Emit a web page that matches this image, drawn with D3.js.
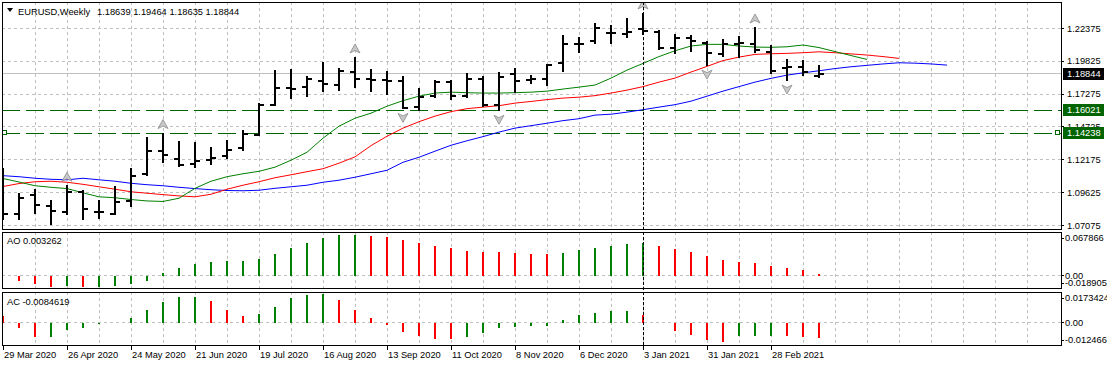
<!DOCTYPE html>
<html lang="en">
<head>
<meta charset="UTF-8">
<title>EURUSD Weekly</title>
<script src="https://d3js.org/d3.v7.min.js"></script>
<style>
    body { margin: 0; background: #fff; }
    svg text { font-family: "Liberation Sans", Arial, sans-serif; font-size: 9.3px; fill: #000; }
</style>
</head>
<body>
<svg id="chart" width="1107" height="366"></svg>
<script>
// week labels on the time axis (every 4th bar)
const dateLabels = ["29 Mar 2020", "26 Apr 2020", "24 May 2020", "21 Jun 2020", "19 Jul 2020", "16 Aug 2020",
    "13 Sep 2020", "11 Oct 2020", "8 Nov 2020", "6 Dec 2020", "3 Jan 2021", "31 Jan 2021", "28 Feb 2021"];

// weekly OHLC, 52 bars
const open = [1.1140, 1.0799, 1.0942, 1.0858, 1.0812, 1.0967, 1.0812, 1.0799, 1.0897, 1.1110, 1.1286, 1.1224, 1.1185,
    1.1219, 1.1245, 1.1305, 1.1413, 1.1641, 1.1772, 1.1783, 1.1830, 1.1794, 1.1900, 1.1842, 1.1836, 1.1828,
    1.1628, 1.1711, 1.1822, 1.1711, 1.1846, 1.1639, 1.1882, 1.1840, 1.1846, 1.1965, 1.2113, 1.2141, 1.2203,
    1.2191, 1.2232, 1.2206, 1.2082, 1.2160, 1.2121, 1.2038, 1.2116, 1.2113, 1.2056, 1.1927, 1.1939, 1.18639];
const high = [1.1147, 1.0949, 1.0986, 1.0895, 1.1012, 1.0975, 1.0895, 1.1004, 1.1144, 1.1387, 1.1421, 1.1354, 1.1348,
    1.1305, 1.1364, 1.1441, 1.1649, 1.1906, 1.1913, 1.1857, 1.1970, 1.1919, 1.2007, 1.1913, 1.1898, 1.1861,
    1.1763, 1.1825, 1.1825, 1.1882, 1.1857, 1.1892, 1.1921, 1.1867, 1.1955, 1.2178, 1.2160, 1.2269, 1.2258,
    1.2310, 1.2349, 1.2219, 1.2185, 1.2180, 1.2133, 1.2147, 1.2168, 1.2240, 1.2100, 1.1991, 1.1986, 1.19464];
const low = [1.0760, 1.0757, 1.0804, 1.0716, 1.0794, 1.0757, 1.0765, 1.0794, 1.0858, 1.1097, 1.1204, 1.1167, 1.1162,
    1.1183, 1.1235, 1.1297, 1.1408, 1.1639, 1.1693, 1.1711, 1.1748, 1.1758, 1.1779, 1.1750, 1.1727, 1.1616,
    1.1602, 1.1701, 1.1686, 1.1701, 1.1633, 1.1602, 1.1742, 1.1815, 1.1794, 1.1908, 1.2051, 1.2126, 1.2126,
    1.2168, 1.2193, 1.2074, 1.2048, 1.2059, 1.1952, 1.2022, 1.2012, 1.2056, 1.1892, 1.1836, 1.1874, 1.18635];
const close = [1.0799, 1.0924, 1.0866, 1.0820, 1.0965, 1.0835, 1.0810, 1.0889, 1.1095, 1.1286, 1.1253, 1.1175, 1.1211,
    1.1235, 1.1291, 1.1421, 1.1641, 1.1771, 1.1768, 1.1841, 1.1804, 1.1908, 1.1841, 1.1838, 1.1830, 1.1623,
    1.1706, 1.1823, 1.1714, 1.1846, 1.1641, 1.1861, 1.1830, 1.1843, 1.1950, 1.2115, 1.2118, 1.2238, 1.2199,
    1.2211, 1.2214, 1.2082, 1.2160, 1.2139, 1.2043, 1.2113, 1.2120, 1.2069, 1.1906, 1.1939, 1.1900, 1.18844];

// alligator lines (they run past the last bar)
const jaw = [1.1094, 1.1086, 1.1074, 1.1066, 1.1062, 1.1074, 1.1062, 1.1051, 1.1035, 1.1024, 1.1016, 1.1004, 1.0994,
    1.0985, 1.0979, 1.0977, 1.0981, 1.0996, 1.1008, 1.1020, 1.1043, 1.1059, 1.1082, 1.1109, 1.1136, 1.1198,
    1.1237, 1.1284, 1.1330, 1.1365, 1.1397, 1.1432, 1.1463, 1.1482, 1.1501, 1.1521, 1.1536, 1.1564, 1.1571,
    1.1587, 1.1606, 1.1626, 1.1645, 1.1672, 1.1711, 1.1750, 1.1785, 1.1820, 1.1849, 1.1874, 1.1892, 1.1908,
    1.1925, 1.1939, 1.1950, 1.1961, 1.1970, 1.1967, 1.1961, 1.1952];
const teeth = [1.1010, 1.1033, 1.1047, 1.1051, 1.1043, 1.1027, 1.1008, 1.0989, 1.0969, 1.0958, 1.0947, 1.0937, 1.0930,
    1.0950, 1.0989, 1.1020, 1.1047, 1.1078, 1.1101, 1.1125, 1.1148, 1.1191, 1.1240, 1.1327, 1.1400, 1.1463,
    1.1513, 1.1556, 1.1591, 1.1614, 1.1626, 1.1637, 1.1657, 1.1670, 1.1684, 1.1696, 1.1703, 1.1715, 1.1735,
    1.1758, 1.1785, 1.1820, 1.1851, 1.1898, 1.1942, 1.1987, 1.2014, 1.2035, 1.2040, 1.2043, 1.2048, 1.2055,
    1.2048, 1.2039, 1.2030, 1.2018, 1.2004];
const lips = [1.1072, 1.1045, 1.1016, 1.1004, 1.0994, 1.0961, 1.0930, 1.0923, 1.0909, 1.0898, 1.0894, 1.0919, 1.0996,
    1.1051, 1.1086, 1.1109, 1.1128, 1.1160, 1.1214, 1.1276, 1.1385, 1.1478, 1.1540, 1.1579, 1.1633, 1.1676,
    1.1711, 1.1735, 1.1742, 1.1738, 1.1735, 1.1735, 1.1738, 1.1742, 1.1750, 1.1766, 1.1781, 1.1797, 1.1851,
    1.1913, 1.1965, 1.2018, 1.2063, 1.2100, 1.2113, 1.2113, 1.2100, 1.2092, 1.2090, 1.2094, 1.2108, 1.2088,
    1.2057, 1.2026, 1.1996];

// fractal bars
const fractalUp = [4, 10, 22, 40, 47];
const fractalDown = [3, 25, 31, 44, 49];

// Awesome Oscillator and Accelerator/Decelerator
const ao = [-0.0003, -0.0077, -0.0134, -0.0170, -0.0154, -0.0171, -0.0169, -0.0166, -0.0123, -0.0077, 0.0035, 0.0111,
    0.0172, 0.0217, 0.0218, 0.0219, 0.0262, 0.0338, 0.0429, 0.0505, 0.0580, 0.0626, 0.0631, 0.0616, 0.0595,
    0.0550, 0.0505, 0.0459, 0.0419, 0.0383, 0.0368, 0.0367, 0.0353, 0.0338, 0.0337, 0.0353, 0.0399, 0.0429,
    0.0459, 0.0489, 0.0500, 0.0459, 0.0414, 0.0368, 0.0308, 0.0247, 0.0217, 0.0202, 0.0156, 0.0111, 0.0081,
    0.003262];
const ac = [0.0037, -0.0031, -0.0081, -0.0078, -0.0043, -0.0028, -0.0009, -0.0004, 0.0028, 0.0072, 0.0113, 0.0144,
    0.0145, 0.0122, 0.0073, 0.0035, 0.0046, 0.0089, 0.0138, 0.0155, 0.0157, 0.0127, 0.0073, 0.0024, -0.0013,
    -0.0051, -0.0073, -0.0089, -0.0090, -0.0078, -0.0058, -0.0031, -0.0024, -0.0018, -0.0017, 0.0013, 0.0040,
    0.0056, 0.0062, 0.0063, 0.0040, -0.0004, -0.0047, -0.0069, -0.0096, -0.0107, -0.0075, -0.0074, -0.0073,
    -0.0076, -0.0080, -0.0084619];

// axis ticks
const priceTicks = [1.22375, 1.19825, 1.17275, 1.14725, 1.12175, 1.09625, 1.07075];
const aoTicks = [0.067866, 0, -0.018905];
const acTicks = [0.0173424, 0, -0.012466];
const levels = [1.16021, 1.14238];
const separatorBar = 40;

// layout
const left = 2, right = 1061;
const main = {top: 2, bottom: 229.5};
const aoP = {top: 231.5, bottom: 288.5};
const acP = {top: 291.5, bottom: 345.5};
const green = "#008000", red = "#ff0000", lineGreen = "#006400", grid = "#c0c0c0";

const svg = d3.select("#chart");

const x = d3.scaleLinear().domain([0, 1]).range([3, 19]);
const y = d3.scaleLinear().domain([1.07075, 1.22375]).range([225.5, 28.3]);
const yAO = d3.scaleLinear().domain([-0.018905, 0.067866]).range([288, 231.5]);
const yAC = d3.scaleLinear().domain([-0.012466, 0.0173424]).range([345, 291.5]);

function clip(id, p) {
    svg.append("clipPath").attr("id", id).append("rect")
        .attr("x", left).attr("y", p.top).attr("width", right - left).attr("height", p.bottom - p.top);
}
clip("cMain", main);
clip("cAO", aoP);
clip("cAC", acP);

// vertical grid, every second bar
const gridIdx = d3.range(2, 66, 2).filter(i => x(i) < right);
[main, aoP, acP].forEach(p => {
    svg.append("g").selectAll("line").data(gridIdx).enter().append("line")
        .attr("x1", d => x(d)).attr("x2", d => x(d))
        .attr("y1", p.top).attr("y2", p.bottom)
        .attr("stroke", grid).attr("stroke-dasharray", "3,3").attr("shape-rendering", "crispEdges");
});

// horizontal grid
svg.append("g").selectAll("line").data(priceTicks).enter().append("line")
    .attr("x1", left).attr("x2", right).attr("y1", d => y(d)).attr("y2", d => y(d))
    .attr("stroke", grid).attr("stroke-dasharray", "3,3").attr("shape-rendering", "crispEdges");
[[yAO, aoP], [yAC, acP]].forEach(([s, p]) => {
    svg.append("line").attr("x1", left).attr("x2", right).attr("y1", s(0)).attr("y2", s(0))
        .attr("stroke", grid).attr("stroke-dasharray", "3,3").attr("shape-rendering", "crispEdges");
});

const gMain = svg.append("g").attr("clip-path", "url(#cMain)");

// bid line
gMain.append("line").attr("x1", left).attr("x2", right)
    .attr("y1", y(close[51])).attr("y2", y(close[51]))
    .attr("stroke", grid).attr("shape-rendering", "crispEdges");

// dashed level lines
gMain.selectAll(".lvl").data(levels).enter().append("line")
    .attr("x1", left).attr("x2", right).attr("y1", d => y(d)).attr("y2", d => y(d))
    .attr("stroke", lineGreen).attr("stroke-dasharray", "18,6").attr("shape-rendering", "crispEdges");
[5, 1058].forEach(px => {
    gMain.append("rect").attr("x", px - 2.5).attr("y", Math.round(y(levels[1])) - 2.5)
        .attr("width", 4).attr("height", 4).attr("fill", "#fff").attr("stroke", lineGreen);
});

// alligator
const line = d3.line().x((d, i) => x(i)).y(d => y(d));
[[jaw, "#0000ff"], [teeth, red], [lips, green]].forEach(([data, col]) => {
    gMain.append("path").datum(data).attr("d", line)
        .attr("fill", "none").attr("stroke", col).attr("stroke-width", 1);
});

// OHLC bars
const bars = gMain.append("g").attr("stroke", "#000").attr("stroke-width", 2).attr("shape-rendering", "crispEdges");
open.forEach((o, i) => {
    const cx = x(i);
    bars.append("line").attr("x1", cx).attr("x2", cx).attr("y1", y(high[i]) - 1).attr("y2", y(low[i]) + 1);
    bars.append("line").attr("x1", cx - 5).attr("x2", cx).attr("y1", y(o)).attr("y2", y(o));
    bars.append("line").attr("x1", cx).attr("x2", cx + 5).attr("y1", y(close[i])).attr("y2", y(close[i]));
});

// fractal arrows
const arrowUp = "M0,-5 L5,4 L0,1.5 L-5,4 Z";
gMain.selectAll(".fu").data(fractalUp).enter().append("path")
    .attr("d", arrowUp)
    .attr("transform", d => `translate(${x(d)},${y(high[d]) - 9})`)
    .attr("fill", "#c8c8c8").attr("stroke", "#8a8a8a").attr("stroke-width", 0.8);
gMain.selectAll(".fd").data(fractalDown).enter().append("path")
    .attr("d", arrowUp)
    .attr("transform", d => `translate(${x(d)},${y(low[d]) + 9}) scale(1,-1)`)
    .attr("fill", "#c8c8c8").attr("stroke", "#8a8a8a").attr("stroke-width", 0.8);

// histograms
function histogram(values, scale, p, cid) {
    svg.append("g").attr("clip-path", `url(#${cid})`)
        .selectAll("rect").data(values).enter().append("rect")
        .attr("x", (d, i) => x(i) - 1).attr("width", 2)
        .attr("y", d => Math.min(scale(d), scale(0)))
        .attr("height", d => Math.abs(scale(d) - scale(0)))
        .attr("fill", (d, i) => (i > 0 && d > values[i - 1]) ? green : red)
        .attr("shape-rendering", "crispEdges");
}
histogram(ao, yAO, aoP, "cAO");
histogram(ac, yAC, acP, "cAC");

// period separator
svg.append("line").attr("x1", x(separatorBar)).attr("x2", x(separatorBar))
    .attr("y1", main.top).attr("y2", acP.bottom)
    .attr("stroke", "#000").attr("stroke-dasharray", "3,2").attr("shape-rendering", "crispEdges");

// panel borders
[main, aoP, acP].forEach(p => {
    svg.append("rect").attr("x", left + 0.5).attr("y", p.top + 0.5)
        .attr("width", right - left).attr("height", p.bottom - p.top - 1)
        .attr("fill", "none").attr("stroke", "#000").attr("shape-rendering", "crispEdges");
});

// price axis
const axisG = svg.append("g");
priceTicks.forEach(t => {
    axisG.append("line").attr("x1", right).attr("x2", right + 3).attr("y1", y(t)).attr("y2", y(t))
        .attr("stroke", "#000").attr("shape-rendering", "crispEdges");
    axisG.append("text").attr("x", 1067).attr("y", y(t)).attr("dy", "0.35em").text(t.toFixed(5));
});

// price tags
function tag(val, bg) {
    const g = svg.append("g");
    g.append("rect").attr("x", 1063).attr("y", Math.round(y(val)) - 6).attr("width", 41).attr("height", 12).attr("fill", bg);
    g.append("text").attr("x", 1067).attr("y", y(val)).attr("dy", "0.35em").style("fill", "#fff").text(val.toFixed(5));
}
tag(close[51], "#000");
tag(levels[0], lineGreen);
tag(levels[1], lineGreen);

// oscillator axes
function oscAxis(ticks, scale, p) {
    ticks.forEach(t => {
        let ty = Math.min(Math.max(scale(t), p.top + 6.5), p.bottom - 5.5);
        if (t === 0) ty = scale(0);
        svg.append("line").attr("x1", right).attr("x2", right + 3).attr("y1", ty).attr("y2", ty)
            .attr("stroke", "#000").attr("shape-rendering", "crispEdges");
        svg.append("text").attr("x", 1065).attr("y", ty).attr("dy", "0.35em")
            .text(t === 0 ? "0.00" : String(t));
    });
}
oscAxis(aoTicks, yAO, aoP);
oscAxis(acTicks, yAC, acP);

// time axis
const dateIdx = d3.range(0, 52, 4);
dateIdx.forEach((d, k) => {
    svg.append("line").attr("x1", x(d)).attr("x2", x(d)).attr("y1", acP.bottom).attr("y2", acP.bottom + 4)
        .attr("stroke", "#000").attr("shape-rendering", "crispEdges");
    svg.append("text").attr("x", x(d) + 1).attr("y", 358).text(dateLabels[k]);
});

// titles
svg.append("path").attr("d", "M7,8 L13,8 L10,12 Z").attr("fill", "#000");
svg.append("text").attr("x", 18).attr("y", 14.5).text("EURUSD,Weekly");
svg.append("text").attr("x", 97).attr("y", 14.5)
    .text([open[51], high[51], low[51], close[51]].map(v => v.toFixed(5)).join(" "));
svg.append("text").attr("x", 7).attr("y", 244).text("AO " + ao[51].toFixed(6));
svg.append("text").attr("x", 7).attr("y", 304.5).text("AC " + ac[51].toFixed(7));
</script>
</body>
</html>
